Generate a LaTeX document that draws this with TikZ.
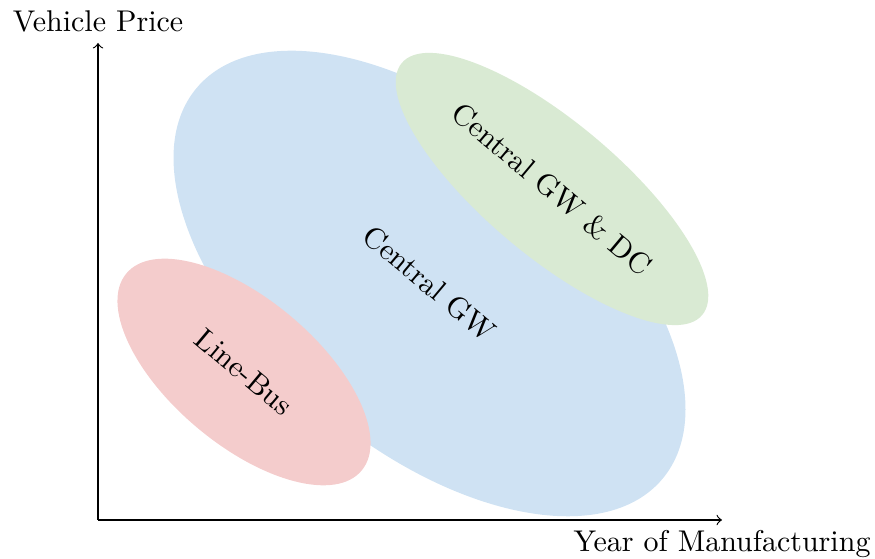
\documentclass[tikz,border=0pt]{standalone}
\usetikzlibrary{shapes.geometric}
\definecolor{gwblue}{RGB}{207,226,243}
\definecolor{dcgreen}{RGB}{217,234,211}
\definecolor{busred}{RGB}{244,204,204}
\begin{document}
\begin{tikzpicture}[x=0.33333pt, y=0.33333pt,
  region/.style={ellipse, inner sep=0pt, outer sep=0pt, rotate=-40},
  axis/.style={->}]
  \useasboundingbox (0,0) rectangle (875,559);

  % architecture regions
  \node[region, fill=gwblue, minimum width=202.7pt, minimum height=110pt]
    (gw) at (429.5,275.5) {Central GW};
  \node[region, fill=dcgreen, minimum width=130.7pt, minimum height=44.7pt]
    (gwdc) at (552,370) {Central GW \& DC};
  \node[region, fill=busred, minimum width=102.3pt, minimum height=48.5pt]
    (bus) at (244,187) {Line-Bus};

  % axes
  \coordinate (origin) at (98,39);
  \coordinate (ytip) at (98,516);
  \coordinate (xtip) at (722,39);
  \draw[axis] (origin) -- (ytip);
  \draw[axis] (origin) -- (xtip);
  \node[above] (ylabel) at (ytip) {Vehicle Price};
  \node[below] (xlabel) at (xtip) {Year of Manufacturing};
\end{tikzpicture}
\end{document}
